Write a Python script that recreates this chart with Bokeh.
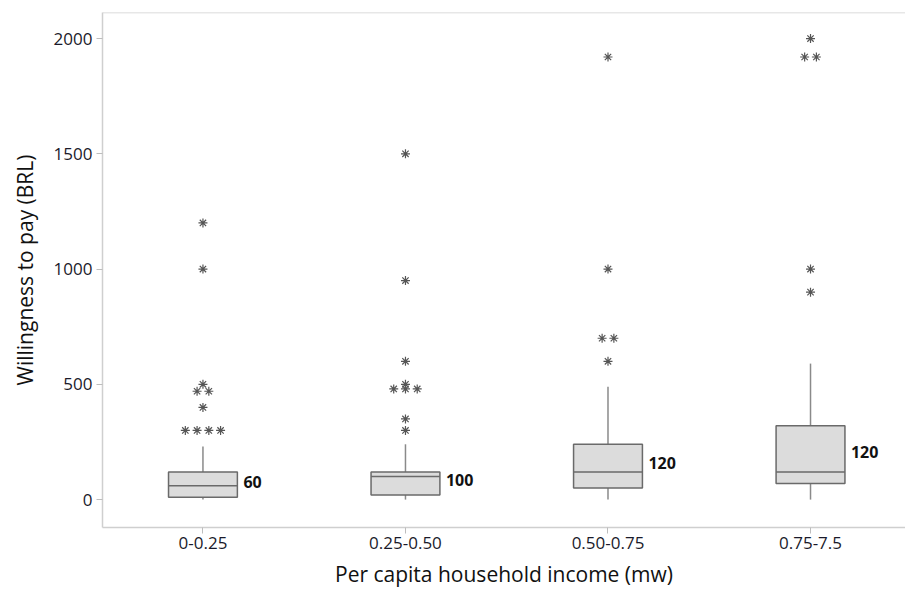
from bokeh.plotting import figure
from bokeh.models import FixedTicker, ColumnDataSource, Span, Range1d
from bokeh.core.properties import value
from bokeh.embed import file_html
from bokeh.resources import INLINE

categories = ["0-0.25", "0.25-0.50", "0.50-0.75", "0.75-7.5"]
q1 = [10, 20, 50, 70]
medians = [60, 100, 120, 120]
q3 = [120, 120, 240, 320]
whisker_low = [0, 0, 0, 0]
whisker_high = [230, 240, 490, 590]
outliers = [
    [1200, 1000, 500, 470, 470, 400, 300, 300, 300, 300],
    [1500, 950, 600, 500, 480, 480, 480, 350, 300],
    [1920, 1000, 700, 700, 600],
    [2000, 1920, 1920, 1000, 900],
]
y_ticks = [0, 500, 1000, 1500, 2000]

FONT = "Open Sans"
BOX_W = 0.34
TIE_SP = 0.058
Y_START, Y_END = -121, 2113

p = figure(width=905, height=594, output_backend="svg", toolbar_location=None,
           x_range=Range1d(-0.496, 3.469), y_range=Range1d(Y_START, Y_END),
           min_border_left=102, min_border_top=12, min_border_bottom=67,
           min_border_right=0, outline_line_color=None)
p.grid.visible = False
p.background_fill_color = "white"
p.border_fill_color = "white"

xs = list(range(len(categories)))

# whiskers
p.segment(x0=xs, y0=q3, x1=xs, y1=whisker_high, line_color="#8a8a8a", line_width=1.5)
p.segment(x0=xs, y0=whisker_low, x1=xs, y1=q1, line_color="#8a8a8a", line_width=1.5)

# boxes
p.vbar(x=xs, width=BOX_W, bottom=q1, top=q3, fill_color="#dcdcdc",
       line_color="#6a6a6a", line_width=1.5)
# medians
p.segment(x0=[x - BOX_W / 2 for x in xs], y0=medians,
          x1=[x + BOX_W / 2 for x in xs], y1=medians,
          line_color="#6a6a6a", line_width=1.5)

# outliers with tie spreading
ox, oy = [], []
for i, vals in enumerate(outliers):
    counts = {}
    for v in vals:
        counts[v] = counts.get(v, 0) + 1
    for v, n in counts.items():
        for k in range(n):
            ox.append(i + (k - (n - 1) / 2) * TIE_SP)
            oy.append(v)
p.scatter(x=ox, y=oy, marker="asterisk", size=9, line_color="#555555", line_width=1.2)

# median labels
lab = ColumnDataSource(dict(
    x=[x + BOX_W / 2 for x in xs],
    y=[(a + b) / 2 for a, b in zip(q1, q3)],
    t=[str(m) for m in medians]))
p.text(x="x", y="y", text="t", source=lab, x_offset=6, y_offset=-3, text_align="left",
       text_baseline="middle", text_font=value(FONT), text_font_style="bold",
       text_font_size="16px", text_color="#111111")

# top frame line
p.add_layout(Span(location=Y_END, dimension="width", line_color="#cfcfcf", line_width=1.5))

# axes
p.xaxis.ticker = FixedTicker(ticks=xs)
p.xaxis.major_label_overrides = {i: c for i, c in enumerate(categories)}
p.yaxis.ticker = FixedTicker(ticks=y_ticks)
for ax in (p.xaxis[0], p.yaxis[0]):
    ax.axis_line_color = "#cfcfcf"
    ax.axis_line_width = 1.5
    ax.major_tick_line_color = "#bdbdbd"
    ax.major_tick_in = 0
    ax.major_tick_out = 6
    ax.minor_tick_line_color = None
    ax.major_label_text_font = FONT
    ax.major_label_text_font_size = "17px"
    ax.major_label_text_color = "#1a1a2a"
    ax.axis_label_text_font = FONT
    ax.axis_label_text_font_style = "normal"
    ax.axis_label_text_color = "#111111"

p.xaxis.axis_label = "Per capita household income (mw)"
p.xaxis.axis_label_text_font_size = "21px"
p.xaxis.major_label_standoff = 3
p.xaxis.axis_label_standoff = 8
p.yaxis.axis_label = "Willingness to pay (BRL)"
p.yaxis.axis_label_text_font_size = "21px"
p.yaxis.major_label_standoff = 4
p.yaxis.axis_label_standoff = 12

open("out.html", "w").write(file_html(p, INLINE))
